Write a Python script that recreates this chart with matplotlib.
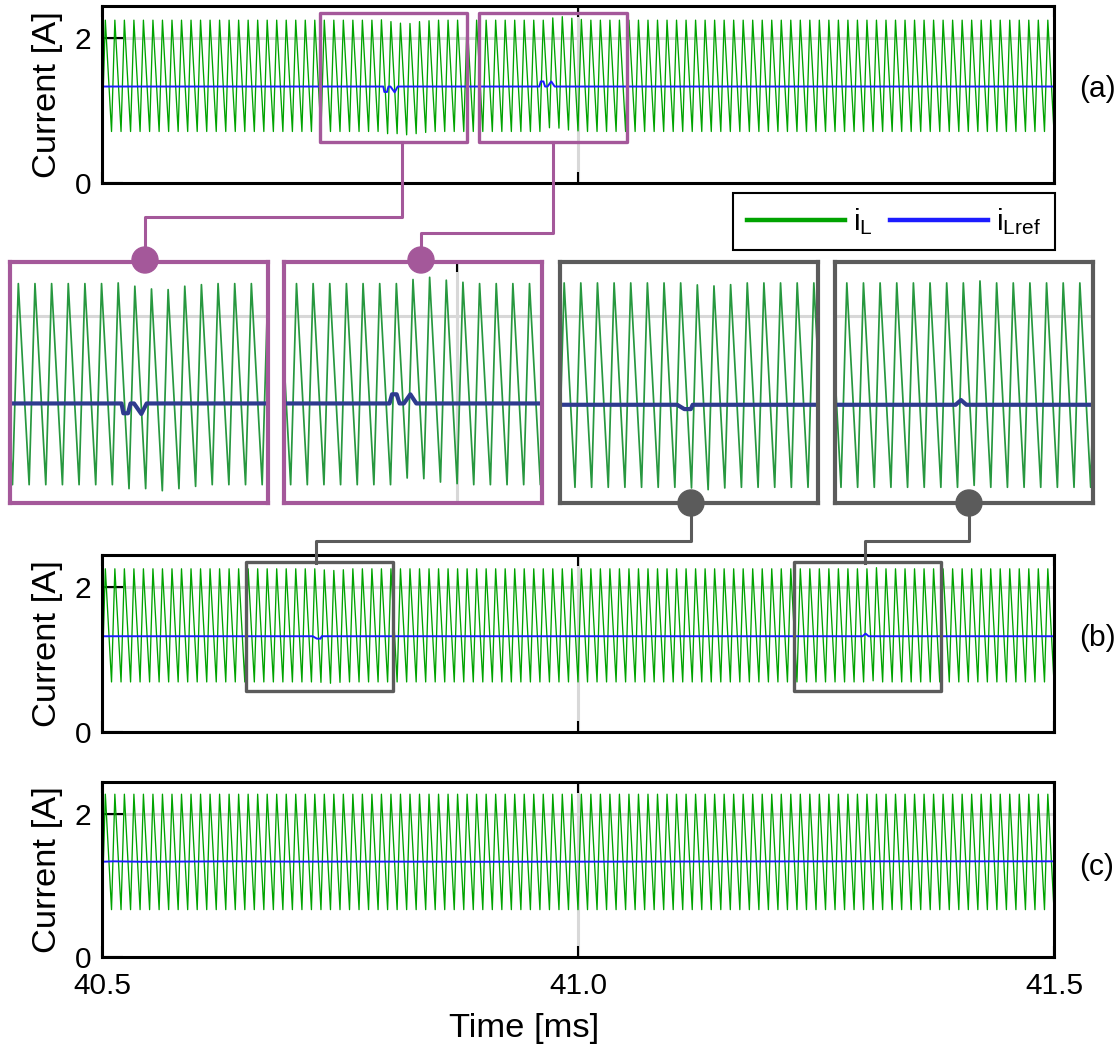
import numpy as np
import matplotlib
matplotlib.use("Agg")
import matplotlib.pyplot as plt
from matplotlib.lines import Line2D
from matplotlib.patches import Rectangle, Circle

plt.rcParams["font.family"] = ["Liberation Sans", "DejaVu Sans"]
plt.rcParams["mathtext.default"] = "regular"

W, H, DPI = 1120, 1051, 100

# ---------------- data ----------------
t_start, t_end = 40.5, 41.5          # ms
switch_period = 0.01                 # ms (100 kHz switching)
duty = 0.35
x_ticks = [40.5, 41.0, 41.5]
x_ticklabels = ["40.5", "41.0", "41.5"]
y_ticks = [0, 2]
y_lim = (0, 2.44)

# inductor-current envelope per case
peak_a, valley_a = 2.245, 0.71
peak_b, valley_b = 2.25, 0.69
peak_c, valley_c = 2.27, 0.66

# cycle-by-cycle excursions of i_L (cycle start [ms], peak offset, valley offset)
dev_a_cycle = [40.79, 40.80, 40.81, 40.82, 40.83, 40.84, 40.97, 40.98, 40.99, 41.00]
dev_a_peak = [0.005, -0.020, -0.041, -0.046, -0.020, -0.008, 0.031, 0.048, 0.026, 0.010]
dev_a_valley = [0.0, -0.030, -0.030, -0.046, -0.030, -0.013, 0.051, 0.046, 0.020, 0.008]

dev_b_cycle = [40.73, 40.74, 40.75, 41.31]
dev_b_peak = [-0.015, -0.023, -0.013, 0.015]
dev_b_valley = [-0.005, -0.018, -0.005, 0.015]

dev_c_cycle = []
dev_c_peak = []
dev_c_valley = []

# current reference i_Lref breakpoints
ref_a_t = [40.5, 40.7955, 40.7966, 40.7994, 40.8009, 40.8030, 40.8074, 40.8106,
           40.9594, 40.9609, 40.9637, 40.9654, 40.9680, 40.9719, 40.9755, 41.5]
ref_a_v = [1.33, 1.33, 1.255, 1.255, 1.33, 1.33, 1.25, 1.33,
           1.33, 1.40, 1.40, 1.33, 1.33, 1.40, 1.33, 1.33]

ref_b_t = [40.5, 40.7214, 40.7257, 40.7296, 40.7307, 41.2989, 41.3021, 41.3053, 41.5]
ref_b_v = [1.32, 1.32, 1.287, 1.287, 1.32, 1.32, 1.356, 1.32, 1.32]

ref_c_t = [40.5, 40.512, 40.543, 40.638, 40.701, 40.80, 40.90, 41.05, 41.15, 41.30, 41.5]
ref_c_v = [1.328, 1.334, 1.328, 1.334, 1.330, 1.330, 1.328, 1.330, 1.332, 1.334, 1.334]

# zoom windows [ms] and their vertical extent [A]
zoom_a1 = (40.7285, 40.8835)
zoom_a2 = (40.896, 41.051)
zoom_b1 = (40.651, 40.806)
zoom_b2 = (41.2264, 41.3814)
zoom_ylim = (0.57, 2.41)
zoom_box_y = (0.56, 2.34)

# ---------------- style ----------------
green = "#00a300"
blue = "#1c1cff"
green_zoom = "#27983f"
blue_zoom = "#2e3b8e"
purple = "#a4589a"
darkgray = "#5b5b5b"
gridgray = "#d8d8d8"
tick_fs = 21.5
label_fs = 24.8


def inductor_current(peak, valley, dev_cycle, dev_peak, dev_valley):
    n = int(round((t_end - t_start) / switch_period))
    starts = t_start + switch_period * np.arange(n + 1)
    pk = np.full(n, peak)
    vl = np.full(n + 1, valley)
    for c, dp, dv in zip(dev_cycle, dev_peak, dev_valley):
        k = int(round((c - t_start) / switch_period))
        pk[k] += dp
        vl[k] += dv
    t = np.empty(2 * n + 1)
    y = np.empty(2 * n + 1)
    t[0::2], y[0::2] = starts, vl
    t[1::2], y[1::2] = starts[:-1] + duty * switch_period, pk
    return t, y


def px_rect(x0, y0, x1, y1):
    return [x0 / W, 1 - y1 / H, (x1 - x0) / W, (y1 - y0) / H]


def px_in(x, y):
    return x / DPI, (H - y) / DPI


fig = plt.figure(figsize=(W / DPI, H / DPI), dpi=DPI)

cases = [
    ((102, 6, 1054, 183), (peak_a, valley_a, dev_a_cycle, dev_a_peak, dev_a_valley), (ref_a_t, ref_a_v), "(a)", 89),
    ((102, 555, 1054, 732), (peak_b, valley_b, dev_b_cycle, dev_b_peak, dev_b_valley), (ref_b_t, ref_b_v), "(b)", 638),
    ((102, 782, 1054, 957), (peak_c, valley_c, dev_c_cycle, dev_c_peak, dev_c_valley), (ref_c_t, ref_c_v), "(c)", 867),
]

axes = []
signals = []
for i, (box, il_args, ref, tag, tag_y) in enumerate(cases):
    ax = fig.add_axes(px_rect(*box))
    t_il, y_il = inductor_current(*il_args)
    signals.append((t_il, y_il, ref))
    ax.plot(t_il, y_il, color=green, lw=0.95, zorder=3)
    ax.plot(ref[0], ref[1], color=blue, lw=1.4, zorder=4)
    ax.set_xticks(x_ticks)
    ax.set_yticks(y_ticks)
    ax.set_xlim(t_start, t_end)
    ax.set_ylim(*y_lim)
    ax.grid(True, color=gridgray, lw=2.2, zorder=1)
    ax.set_axisbelow(True)
    for s in ax.spines.values():
        s.set_linewidth(2.2)
        s.set_color("black")
        s.set_zorder(6)
    ax.tick_params(axis="y", direction="in", length=15, width=1.5, left=True, right=False,
                   labelsize=tick_fs, pad=8)
    ax.tick_params(axis="x", direction="in", length=8, width=1.5, top=True, bottom=True,
                   labelsize=tick_fs, pad=11)
    if i == 2:
        ax.set_xticklabels(x_ticklabels)
    else:
        ax.set_xticklabels([])
    ax.set_ylabel("Current [A]", fontsize=label_fs)
    ax.yaxis.set_label_coords((47.5 - 102) / 952, 0.5)
    ax.yaxis.label.set_va("center")
    fig.text(1097 / W, 1 - tag_y / H, tag, ha="center", va="center", fontsize=tick_fs)
    axes.append(ax)

ax_a, ax_b, ax_c = axes
ax_c.set_xlabel("Time [ms]", fontsize=label_fs)
ax_c.xaxis.set_label_coords((524 - 102) / 952, (957 - 1028) / 175)
ax_c.xaxis.label.set_va("center")

# zoom boxes drawn on the overview traces
for ax, win, col in [(ax_a, zoom_a1, purple), (ax_a, zoom_a2, purple),
                     (ax_b, zoom_b1, darkgray), (ax_b, zoom_b2, darkgray)]:
    ax.add_patch(Rectangle((win[0], zoom_box_y[0]), win[1] - win[0], zoom_box_y[1] - zoom_box_y[0],
                           fill=False, edgecolor=col, lw=2.4, joinstyle="round", zorder=5))

# magnified views
zooms = [
    ((10, 262, 268, 503), zoom_a1, 0, purple),
    ((284, 262, 542, 503), zoom_a2, 0, purple),
    ((560, 262, 818, 503), zoom_b1, 1, darkgray),
    ((835, 262, 1093, 503), zoom_b2, 1, darkgray),
]
for box, win, k, col in zooms:
    t_il, y_il, ref = signals[k]
    axz = fig.add_axes(px_rect(*box))
    axz.plot(t_il, y_il, color=green_zoom, lw=1.25, zorder=3)
    axz.plot(ref[0], ref[1], color=blue_zoom, lw=3.0, zorder=4)
    axz.set_xticks([41.0])
    axz.set_yticks([2.0])
    axz.set_xlim(*win)
    axz.set_ylim(*zoom_ylim)
    axz.grid(True, color=gridgray, lw=2.2, zorder=1)
    axz.set_axisbelow(True)
    axz.tick_params(axis="y", length=0, labelleft=False)
    axz.tick_params(axis="x", direction="in", length=7, width=1.5, top=True, bottom=False,
                    labelbottom=False, labeltop=False)
    for s in axz.spines.values():
        s.set_linewidth(3.0)
        s.set_color(col)
        s.set_zorder(6)

# connector lines and markers
connectors = [
    ([(402, 142), (402, 217), (145, 217), (145, 260)], purple, (145, 260)),
    ([(553, 142), (553, 233), (421, 233), (421, 260)], purple, (421, 260)),
    ([(691, 503), (691, 541), (316, 541), (316, 563)], darkgray, (691, 503)),
    ([(969, 503), (969, 541), (865, 541), (865, 563)], darkgray, (969, 503)),
]
for pts, col, dot in connectors:
    xs, ys = zip(*[px_in(x, y) for x, y in pts])
    fig.add_artist(Line2D(xs, ys, color=col, lw=2.2, transform=fig.dpi_scale_trans,
                          solid_joinstyle="round", zorder=8))
    fig.add_artist(Circle(px_in(*dot), 0.13, color=col, transform=fig.dpi_scale_trans, zorder=9))

# legend
handles = [Line2D([], [], color=green, lw=3.2), Line2D([], [], color=blue, lw=3.2)]
leg = fig.legend(handles, [r"$i_L$", r"$i_{Lref}$"], loc="center",
                 bbox_to_anchor=((733 + 1055) / 2 / W, 1 - 221.5 / H), ncol=2,
                 frameon=True, fancybox=False, edgecolor="black", framealpha=1,
                 fontsize=tick_fs, handlelength=3.3, handletextpad=0.27,
                 columnspacing=0.55, borderpad=0.45)
leg.get_frame().set_linewidth(1.5)

fig.savefig("out.png", dpi=DPI)
